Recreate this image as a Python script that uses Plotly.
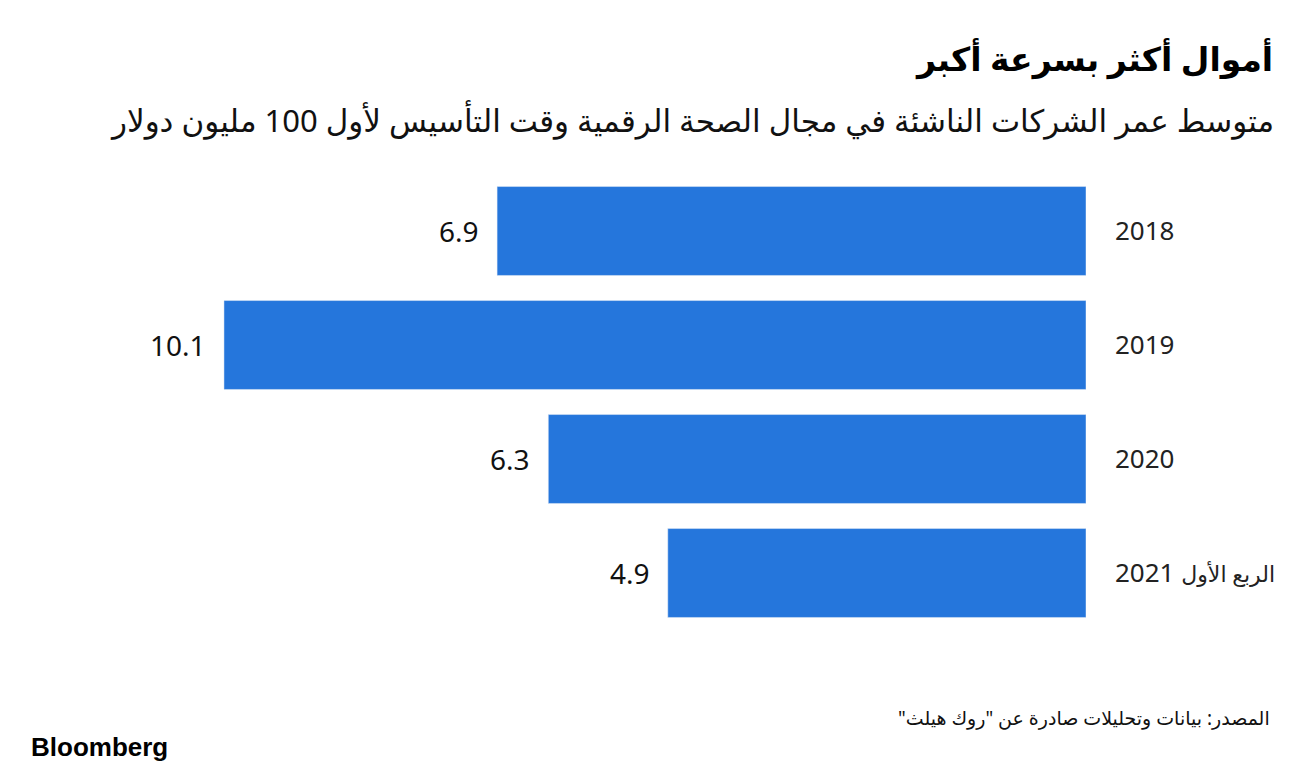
import plotly.graph_objects as go

# data
categories = ["2018", "2019", "2020", "الربع الأول 2021"]
values = [6.9, 10.1, 6.3, 4.9]
value_labels = ["6.9", "10.1", "6.3", "4.9"]
tick_labels = ["2018", "2019", "2020",
               "<span style='font-size:22px'>الربع الأول</span> 2021"]

RLM = "\u200f"
title = "أموال أكثر بسرعة أكبر"
subtitle = "متوسط عمر الشركات الناشئة في مجال الصحة الرقمية وقت التأسيس لأول 100 مليون دولار"
source = RLM + "المصدر: بيانات وتحليلات صادرة عن \"روك هيلث\"" + RLM

# page body has an 8px margin, so the figure is drawn 8px smaller
OFF = 8
W, H = 1297 - OFF, 773 - OFF
right_edge = 1086 - OFF
top, bottom = 174 - OFF, 630 - OFF


def py(y):
    return (bottom - (y - OFF)) / (bottom - top)


def px(x):
    return (x - OFF) / right_edge


fig = go.Figure()
fig.add_trace(go.Bar(
    x=values, y=categories, orientation="h",
    marker_color="#2576DC", width=0.78,
    hoverinfo="skip",
))

# value labels left of each bar (y given as category index)
for i, (v, lab) in enumerate(zip(values, value_labels)):
    fig.add_annotation(x=v, y=i, text=lab, showarrow=False,
                       xanchor="right", xshift=-16,
                       font=dict(size=28, color="#111111"))

fig.update_xaxes(range=[right_edge / 85.35, 0], visible=False, fixedrange=True)
fig.update_yaxes(type="category", range=[len(categories) - 0.5, -0.5], side="right",
                 tickvals=categories, ticktext=tick_labels,
                 showgrid=False, showline=False, zeroline=False, ticks="",
                 ticklabelstandoff=28,
                 tickfont=dict(size=26, color="#222222"))

ann = [
    dict(text="<b>" + title + "</b>", x=px(1275), y=py(58), xanchor="right", yanchor="middle",
         font=dict(size=33, color="#000000")),
    dict(text=subtitle, x=px(1276), y=py(120), xanchor="right", yanchor="middle",
         font=dict(size=31, color="#111111")),
    dict(text=source, x=px(1272), y=py(718), xanchor="right", yanchor="middle",
         font=dict(size=19, color="#111111")),
    dict(text="<b>Bloomberg</b>", x=px(29), y=py(747), xanchor="left", yanchor="middle",
         font=dict(size=26, color="#000000", family="Liberation Sans, Arial")),
]
for a in ann:
    fig.add_annotation(xref="paper", yref="paper", showarrow=False, **a)

fig.update_layout(
    width=W, height=H,
    margin=dict(l=0, r=W - right_edge, t=top, b=H - bottom, pad=0),
    plot_bgcolor="white", paper_bgcolor="white",
    showlegend=False,
    font=dict(family="Noto Sans, DejaVu Sans, sans-serif"),
)

fig.write_html("out.html")
